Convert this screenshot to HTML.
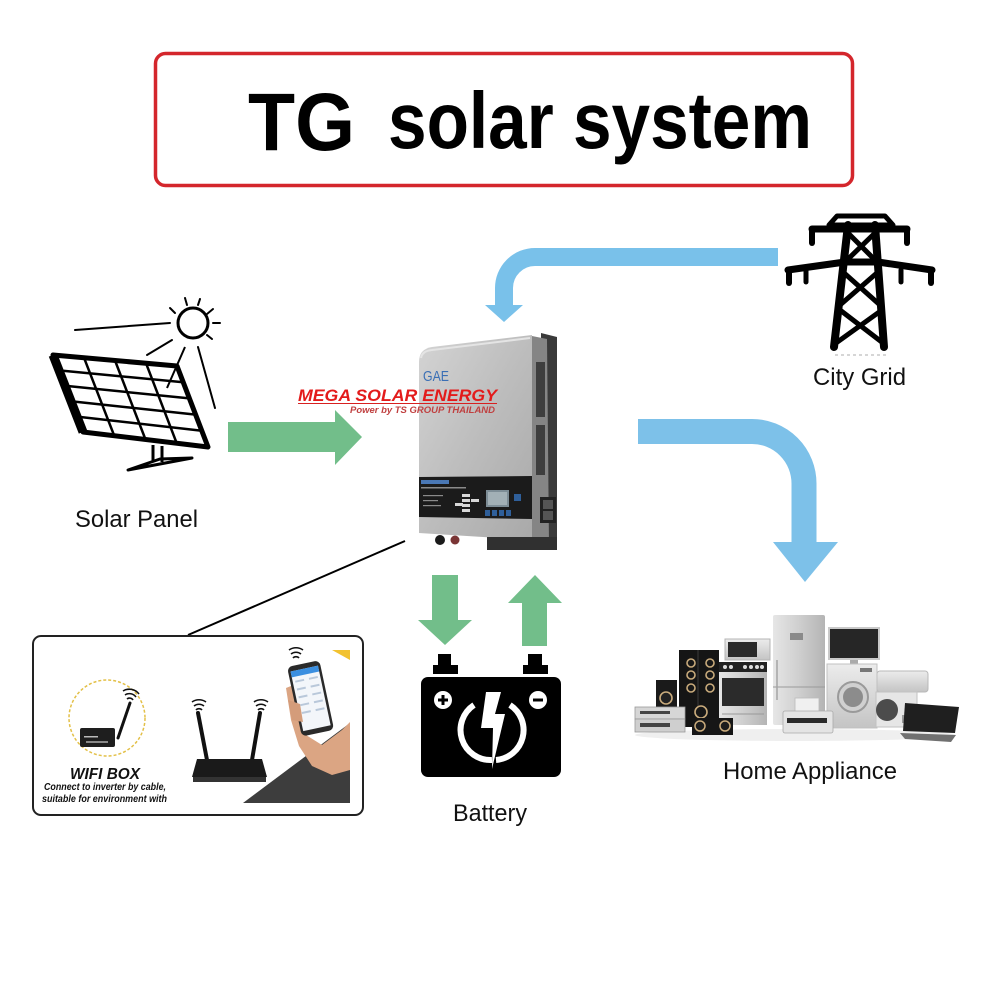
<!DOCTYPE html>
<html><head><meta charset="utf-8"><style>
html,body{margin:0;padding:0;background:#fff;}
svg{display:block;}
text{font-family:"Liberation Sans",Arial,sans-serif;}
</style></head><body>
<svg width="998" height="998" viewBox="0 0 998 998" xmlns="http://www.w3.org/2000/svg">
<defs>
<linearGradient id="inv" x1="0" y1="0" x2="1" y2="1">
<stop offset="0" stop-color="#d4d4d4"/><stop offset="0.5" stop-color="#bdbdbd"/><stop offset="1" stop-color="#a9a9a9"/>
</linearGradient>
<linearGradient id="silver" x1="0" y1="0" x2="1" y2="0">
<stop offset="0" stop-color="#e6e6e6"/><stop offset="0.5" stop-color="#cfcfcf"/><stop offset="1" stop-color="#b4b4b4"/>
</linearGradient>
<linearGradient id="silver2" x1="0" y1="0" x2="0" y2="1">
<stop offset="0" stop-color="#ececec"/><stop offset="1" stop-color="#c4c4c4"/>
</linearGradient>
</defs>
<rect width="998" height="998" fill="#fff"/>

<!-- Title -->
<rect x="155.5" y="53.5" width="697" height="132" rx="10" fill="#fff" stroke="#d4262c" stroke-width="3.5"/>
<text x="248" y="150" font-size="82" font-weight="bold" fill="#000" textLength="107" lengthAdjust="spacingAndGlyphs">TG</text>
<text x="388" y="148" font-size="80" font-weight="bold" fill="#000" textLength="424" lengthAdjust="spacingAndGlyphs">solar system</text>

<!-- Blue arrow from grid -->
<path d="M778,257 H535 A31,31 0 0 0 504,288 V306" stroke="#79c1ea" stroke-width="18" fill="none"/>
<polygon points="485,305 523,305 504,322" fill="#79c1ea"/>

<!-- Blue arrow to appliances -->
<path d="M638,431.5 H752 A52,52 0 0 1 804,483.5 V545" stroke="#7dc1e9" stroke-width="25" fill="none"/>
<polygon points="773,542 838,542 805,582" fill="#7dc1e9"/>

<!-- Solar panel -->
<g stroke="#000" fill="none" stroke-linecap="round">
<circle cx="193" cy="323" r="15" stroke-width="3"/>
<line x1="170" y1="308" x2="175" y2="313" stroke-width="2"/>
<line x1="185" y1="298" x2="187" y2="305" stroke-width="2"/>
<line x1="200" y1="299" x2="198" y2="305" stroke-width="2"/>
<line x1="213" y1="309" x2="207" y2="314" stroke-width="2"/>
<line x1="213" y1="323" x2="220" y2="323" stroke-width="2"/>
<line x1="212" y1="339" x2="207" y2="335" stroke-width="2"/>
<line x1="75" y1="330" x2="170" y2="323" stroke-width="2"/>
<line x1="147" y1="355" x2="172" y2="340" stroke-width="2"/>
<line x1="215" y1="408" x2="198" y2="347" stroke-width="2"/>
</g>
<polygon points="53,355 177,366 208,447 83,432" fill="#fff" stroke="#000" stroke-width="5" stroke-linejoin="round"/>
<line x1="53" y1="355" x2="83" y2="432" stroke="#000" stroke-width="9"/>
<g stroke="#000" stroke-width="2.5">
<line x1="84" y1="357.7" x2="114.2" y2="435.7"/>
<line x1="115" y1="360.5" x2="145.5" y2="439.5"/>
<line x1="146" y1="363.2" x2="176.7" y2="443.2"/>
<line x1="59" y1="370.4" x2="183.2" y2="382.2"/>
<line x1="65" y1="385.8" x2="189.4" y2="398.4"/>
<line x1="71" y1="401.2" x2="195.6" y2="414.6"/>
<line x1="77" y1="416.6" x2="201.8" y2="430.8"/>
</g>
<line x1="167" y1="388" x2="185" y2="347" stroke="#000" stroke-width="2"/>
<g stroke="#000" stroke-width="3" fill="none" stroke-linejoin="round">
<line x1="153" y1="445" x2="153" y2="462"/>
<line x1="162" y1="446" x2="162" y2="462"/>
<polygon points="128,470 160,459 192,458"/>
</g>

<!-- Green arrow solar -> inverter -->
<polygon points="228,422 335,422 335,410 362,437 335,465 335,452 228,452" fill="#72be8a"/>

<!-- Inverter -->
<path d="M541,333 L557,337 L557,550 L541,550 Z" fill="#3a3a3a"/>
<path d="M532,336 L547,339 L549,545 L532,540 Z" fill="#858585"/>
<g fill="#3e3e3e">
<rect x="536" y="362" width="9" height="55"/>
<rect x="536" y="425" width="9" height="50"/>
</g>
<path d="M419,362 Q419,349 432,347 L532,335 L532,540 L419,533 Z" fill="url(#inv)"/>
<path d="M421,358 Q422,351 432,350 L530,338" stroke="#e4e4e4" stroke-width="2" fill="none"/>
<polygon points="419,477 532,476 532,519 419,517" fill="#1b1b1b"/>
<rect x="421" y="480" width="28" height="4" fill="#4a78b5"/>
<g fill="#8a8a8a">
<rect x="421" y="487" width="45" height="1.5"/>
<rect x="423" y="495" width="20" height="1.2"/>
<rect x="423" y="500" width="15" height="1.2"/>
<rect x="423" y="505" width="18" height="1.2"/>
</g>
<g fill="#d8d8d8">
<rect x="462" y="494" width="8" height="3"/>
<rect x="462" y="499" width="8" height="3"/>
<rect x="471" y="499" width="8" height="3"/>
<rect x="455" y="503" width="8" height="3"/>
<rect x="462" y="504" width="8" height="3"/>
<rect x="462" y="509" width="8" height="3"/>
</g>
<rect x="486" y="490" width="23" height="17" fill="#7d8d96"/>
<rect x="488" y="492" width="19" height="13" fill="#a2b0b6"/>
<g fill="#2f5f9a">
<rect x="485" y="510" width="5" height="6"/>
<rect x="492" y="510" width="5" height="6"/>
<rect x="499" y="510" width="5" height="6"/>
<rect x="506" y="510" width="5" height="6"/>
<rect x="514" y="494" width="7" height="7"/>
</g>
<rect x="540" y="497" width="16" height="26" fill="#222"/>
<rect x="543" y="500" width="10" height="9" fill="#555"/>
<rect x="543" y="511" width="10" height="9" fill="#555"/>
<circle cx="440" cy="540" r="5" fill="#1a1a1a"/>
<circle cx="455" cy="540" r="4.5" fill="#7a3535"/>
<rect x="487" y="537" width="70" height="13" fill="#303030"/>
<text x="423" y="381" font-size="15" fill="#3a6fb5" textLength="26" lengthAdjust="spacingAndGlyphs">GAE</text>

<!-- Mega solar text -->
<text x="298" y="401" font-size="17" font-weight="bold" font-style="italic" fill="#e31b1b" textLength="199" lengthAdjust="spacingAndGlyphs">MEGA SOLAR ENERGY</text>
<line x1="298" y1="403.5" x2="497" y2="403.5" stroke="#d82020" stroke-width="1"/>
<text x="350" y="413" font-size="9" font-weight="bold" font-style="italic" fill="#c04040" textLength="145" lengthAdjust="spacingAndGlyphs">Power by TS GROUP THAILAND</text>

<!-- Connector to wifi panel -->
<line x1="188" y1="635" x2="405" y2="541" stroke="#000" stroke-width="2"/>

<!-- Battery arrows -->
<polygon points="432,575 458,575 458,620 472,620 445,645 418,620 432,620" fill="#72be8a"/>
<polygon points="535,575 562,603 547,603 547,646 522,646 522,603 508,603" fill="#72be8a"/>

<!-- Battery -->
<rect x="438" y="654" width="13" height="13" fill="#000"/>
<rect x="433" y="665" width="25" height="9" fill="#000"/>
<rect x="528" y="654" width="14" height="13" fill="#000"/>
<rect x="523" y="665" width="25" height="9" fill="#000"/>
<rect x="421" y="677" width="140" height="100" rx="7" fill="#000"/>
<circle cx="443" cy="700" r="9" fill="#fff"/>
<rect x="438" y="698.5" width="10" height="3" fill="#000"/>
<rect x="441.5" y="695" width="3" height="10" fill="#000"/>
<circle cx="538" cy="700" r="9" fill="#fff"/>
<rect x="533" y="698.5" width="10" height="3" fill="#000"/>
<path d="M474,705 A30,30 0 0 0 492,760 M510,705 A30,30 0 0 1 496,760" stroke="#fff" stroke-width="6" fill="none"/>
<polygon points="486,692 501,692 495,714 505,714 492,769 493,728 481,728" fill="#fff"/>

<!-- City grid tower -->
<g stroke="#000" stroke-linecap="round" stroke-linejoin="round" fill="none">
<polygon points="837,216 885,216 893,225 829,225" stroke-width="5" fill="#fff"/>
<line x1="812" y1="229" x2="907" y2="229" stroke-width="7"/>
<line x1="812" y1="229" x2="812" y2="243" stroke-width="6"/>
<line x1="907" y1="229" x2="907" y2="243" stroke-width="6"/>
<path d="M788,270 L845,262 L878,262 L932,270" stroke-width="7"/>
<line x1="789" y1="270" x2="789" y2="283" stroke-width="6"/>
<line x1="806" y1="270" x2="806" y2="282" stroke-width="5"/>
<line x1="901" y1="270" x2="901" y2="282" stroke-width="5"/>
<line x1="931" y1="270" x2="931" y2="283" stroke-width="6"/>
<line x1="848" y1="225" x2="834" y2="347" stroke-width="8"/>
<line x1="875" y1="225" x2="884" y2="347" stroke-width="8"/>
<line x1="847" y1="232" x2="877" y2="262" stroke-width="5"/>
<line x1="876" y1="232" x2="845" y2="262" stroke-width="5"/>
<line x1="843" y1="272" x2="880" y2="305" stroke-width="5"/>
<line x1="878" y1="272" x2="840" y2="305" stroke-width="5"/>
<line x1="840" y1="310" x2="883" y2="343" stroke-width="5"/>
<line x1="882" y1="310" x2="836" y2="343" stroke-width="5"/>
</g>
<line x1="835" y1="355" x2="888" y2="355" stroke="#c8c8c8" stroke-width="1.5" stroke-dasharray="3,3"/>

<!-- Labels -->
<text x="75" y="527" font-size="24" fill="#111" textLength="123" lengthAdjust="spacingAndGlyphs">Solar Panel</text>
<text x="453" y="821" font-size="24" fill="#111" textLength="74" lengthAdjust="spacingAndGlyphs">Battery</text>
<text x="723" y="779" font-size="24" fill="#111" textLength="174" lengthAdjust="spacingAndGlyphs">Home Appliance</text>
<text x="813" y="385" font-size="24" fill="#111" textLength="93" lengthAdjust="spacingAndGlyphs">City Grid</text>

<!-- Home appliances -->
<ellipse cx="795" cy="735" rx="160" ry="6" fill="#efefef"/>
<!-- fridge -->
<rect x="773" y="615" width="52" height="110" rx="2" fill="url(#silver)"/>
<line x1="773" y1="687" x2="825" y2="687" stroke="#9a9a9a" stroke-width="1"/>
<rect x="790" y="633" width="13" height="7" fill="#8a8a8a"/>
<line x1="777" y1="660" x2="777" y2="700" stroke="#a5a5a5" stroke-width="1.5"/>
<!-- TV -->
<rect x="828" y="627" width="52" height="33" fill="#c9c9c9"/>
<rect x="830" y="629" width="48" height="29" fill="#262626"/>
<rect x="850" y="660" width="8" height="4" fill="#aaa"/>
<!-- AC indoor -->
<rect x="877" y="671" width="51" height="21" rx="3" fill="url(#silver2)" stroke="#b8b8b8" stroke-width="1"/>
<!-- washing machine -->
<rect x="827" y="664" width="50" height="64" fill="url(#silver2)" stroke="#c0c0c0" stroke-width="1"/>
<rect x="860" y="668" width="12" height="4" fill="#777"/>
<circle cx="853" cy="697" r="15" fill="#d0d0d0" stroke="#9a9a9a" stroke-width="2"/>
<circle cx="853" cy="697" r="10" fill="#8c8c8c"/>
<!-- AC outdoor -->
<rect x="876" y="692" width="41" height="35" fill="#e6e6e6" stroke="#c2c2c2" stroke-width="1"/>
<circle cx="887" cy="710" r="11" fill="#4c4c4c"/>
<rect x="902" y="715" width="6" height="8" fill="#999"/>
<!-- laptop -->
<polygon points="905,703 959,707 955,733 903,731" fill="#1f1f1f"/>
<polygon points="900,733 956,735 951,742 905,739" fill="#707070"/>
<!-- microwave -->
<rect x="725" y="639" width="45" height="21" fill="url(#silver2)" stroke="#b5b5b5" stroke-width="1"/>
<rect x="728" y="642" width="29" height="15" fill="#2a2a2a"/>
<!-- oven -->
<rect x="719" y="662" width="48" height="63" fill="url(#silver)"/>
<rect x="719" y="662" width="48" height="10" fill="#222"/>
<g fill="#ddd">
<circle cx="725" cy="667" r="2"/><circle cx="731" cy="667" r="2"/><circle cx="745" cy="667" r="2"/><circle cx="751" cy="667" r="2"/><circle cx="757" cy="667" r="2"/><circle cx="762" cy="667" r="2"/>
</g>
<rect x="722" y="678" width="42" height="28" fill="#2b2b2b"/>
<line x1="722" y1="714" x2="764" y2="714" stroke="#999" stroke-width="1"/>
<!-- tall speakers -->
<rect x="679" y="650" width="40" height="77" fill="#151515"/>
<line x1="698" y1="650" x2="698" y2="727" stroke="#3a3a3a" stroke-width="1"/>
<g fill="#171717" stroke="#c9ab7c" stroke-width="1.6">
<circle cx="691" cy="663" r="4"/><circle cx="691" cy="675" r="4"/><circle cx="691" cy="688" r="4"/>
<circle cx="710" cy="663" r="4"/><circle cx="710" cy="675" r="4"/><circle cx="710" cy="688" r="4"/>
<circle cx="701" cy="712" r="6"/>
</g>
<!-- small speaker -->
<rect x="656" y="680" width="21" height="27" fill="#1a1a1a"/>
<circle cx="666" cy="698" r="6" fill="#222" stroke="#c9ab7c" stroke-width="1.6"/>
<!-- stereo -->
<rect x="635" y="707" width="50" height="12" fill="#d6d6d6" stroke="#999" stroke-width="0.8"/>
<rect x="635" y="719" width="50" height="13" fill="#cfcfcf" stroke="#999" stroke-width="0.8"/>
<rect x="640" y="711" width="30" height="3" fill="#444"/>
<rect x="640" y="723" width="30" height="4" fill="#444"/>
<!-- center speaker -->
<rect x="692" y="718" width="41" height="17" fill="#161616"/>
<circle cx="700" cy="726" r="5" fill="#1c1c1c" stroke="#c9ab7c" stroke-width="1.5"/>
<circle cx="725" cy="726" r="5" fill="#1c1c1c" stroke="#c9ab7c" stroke-width="1.5"/>
<!-- printer -->
<rect x="795" y="698" width="24" height="14" fill="#f0f0f0" stroke="#bbb" stroke-width="0.8"/>
<rect x="783" y="711" width="50" height="22" rx="2" fill="#e4e4e4" stroke="#aaa" stroke-width="0.8"/>
<rect x="787" y="718" width="40" height="5" fill="#2a2a2a"/>

<!-- Wifi panel -->
<rect x="33" y="636" width="330" height="179" rx="8" fill="#fff" stroke="#222" stroke-width="2"/>
<polygon points="332,650 350,650 350,660" fill="#f2c230"/>
<circle cx="107" cy="718" r="38" fill="none" stroke="#e3c048" stroke-width="1.5" stroke-dasharray="3,2"/>
<line x1="118" y1="738" x2="130" y2="703" stroke="#111" stroke-width="3" stroke-linecap="round"/>
<rect x="80" y="728" width="35" height="19" rx="2" fill="#1e1e1e"/>
<rect x="84" y="736" width="14" height="1.5" fill="#bbb"/>
<rect x="86" y="741" width="22" height="2" fill="#888"/>
<g stroke="#111" stroke-width="1.6" fill="none">
<path d="M127,699 a4,4 0 0 1 6,1"/><path d="M125,695 a8,8 0 0 1 11,2"/><path d="M123,691 a12,12 0 0 1 16,3"/>
<path d="M196,710 a4,4 0 0 1 6,0"/><path d="M194,706 a8,8 0 0 1 10,0"/><path d="M192,702 a12,12 0 0 1 14,0"/>
<path d="M258,710 a4,4 0 0 1 6,0"/><path d="M256,706 a8,8 0 0 1 10,0"/><path d="M254,702 a12,12 0 0 1 14,0"/>
<path d="M293,658 a4,4 0 0 1 6,0"/><path d="M291,654 a8,8 0 0 1 10,0"/><path d="M289,650 a12,12 0 0 1 14,0"/>
</g>
<text x="70" y="779" font-size="16" font-weight="bold" font-style="italic" fill="#111" textLength="70" lengthAdjust="spacingAndGlyphs">WIFI BOX</text>
<text x="44" y="790" font-size="10.5" font-weight="bold" font-style="italic" fill="#111" textLength="122" lengthAdjust="spacingAndGlyphs">Connect to inverter by cable,</text>
<text x="42" y="802" font-size="10.5" font-weight="bold" font-style="italic" fill="#111" textLength="125" lengthAdjust="spacingAndGlyphs">suitable for environment with</text>
<!-- router -->
<line x1="207" y1="760" x2="198" y2="713" stroke="#111" stroke-width="4" stroke-linecap="round"/>
<line x1="252" y1="760" x2="260" y2="713" stroke="#111" stroke-width="4" stroke-linecap="round"/>
<polygon points="197,759 262,759 267,777 192,777" fill="#1a1a1a"/>
<rect x="193" y="777" width="73" height="5" fill="#333"/>
<!-- gray triangle -->
<polygon points="243,803 350,723 350,803" fill="#3d3d3d"/>
<!-- hand + phone -->
<polygon points="286,688 296,684 302,702 306,735 322,745 342,730 350,722 350,770 332,775 312,766 299,746 291,720" fill="#dba583"/>
<g transform="rotate(-12 310 698)">
<rect x="294" y="663" width="33" height="71" rx="5" fill="#2a2a2a"/>
<rect x="296.5" y="668" width="28" height="61" fill="#f3f6fa"/>
<rect x="296.5" y="668" width="28" height="6" fill="#3b8fe0"/>
<g fill="#b9c8da">
<rect x="299" y="678" width="9" height="2"/><rect x="313" y="678" width="9" height="2"/>
<rect x="299" y="686" width="9" height="2"/><rect x="313" y="686" width="9" height="2"/>
<rect x="299" y="694" width="9" height="2"/><rect x="313" y="694" width="9" height="2"/>
<rect x="299" y="702" width="9" height="2"/><rect x="313" y="702" width="9" height="2"/>
<rect x="299" y="710" width="9" height="2"/><rect x="313" y="710" width="9" height="2"/>
</g>
</g>
<polygon points="288,700 300,704 303,722 292,720" fill="#d49c7a"/>
</svg>
</body></html>
